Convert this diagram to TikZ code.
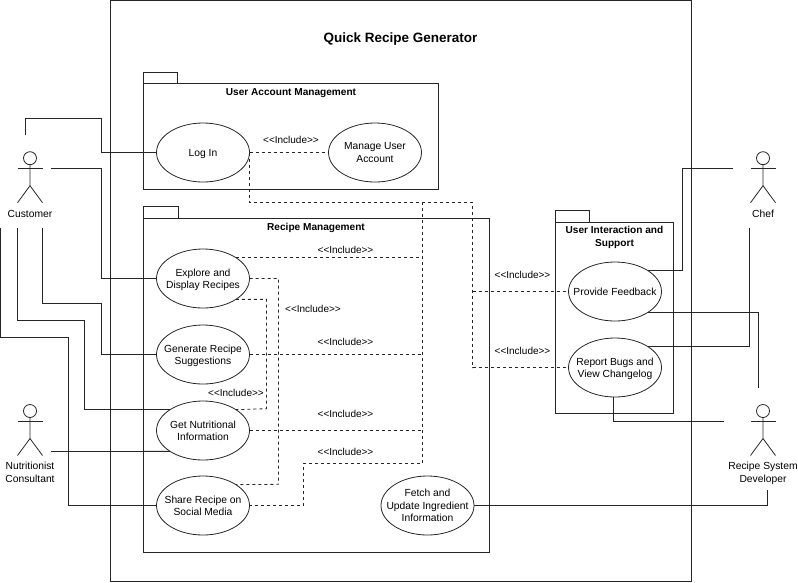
\documentclass[tikz,border=0pt]{standalone}
\usepackage{fontspec}
\setmainfont{Liberation Sans}
\usetikzlibrary{shapes.geometric,positioning}
\definecolor{linecol}{gray}{0.15}
\newcommand{\incl}{<{}<Include>{}>}
\tikzset{
  usecase/.style={draw=linecol,line width=0.8pt,shape=ellipse,minimum width=93pt,minimum height=59pt,inner xsep=-14pt,inner ysep=0pt,outer sep=0pt,align=center,text depth=0pt,font=\fontsize{10.3}{12.3}\selectfont},
  pkgbody/.style={draw=linecol,line width=0.8pt,rectangle,inner sep=0pt,outer sep=0pt,anchor=north west},
  pkgtab/.style={pkgbody,anchor=south west,minimum height=11.5pt},
  pkgtitle/.style={align=center,inner sep=0pt,text depth=0pt,font=\fontsize{10.1}{12.6}\selectfont\bfseries},
  inclabel/.style={inner sep=0pt,text depth=0pt,font=\fontsize{10}{12}\selectfont},
  actorlabel/.style={align=center,inner sep=0pt,text depth=0pt,font=\fontsize{10.3}{12.6}\selectfont},
  solidline/.style={draw=linecol,line width=0.8pt},
  dashline/.style={draw=linecol,line width=0.8pt,dash pattern=on 3pt off 3pt},
  stickman/.pic={
    \draw[solidline] (0,-10.5) circle (6.5);
    \draw[solidline] (-12.5,0)--(12.5,0);
    \draw[solidline] (0,-4)--(0,17)--(-12.5,34);
    \draw[solidline] (0,17)--(12.5,34);
  }
}
\begin{document}
\begin{tikzpicture}[x=1pt,y=-1pt]
  \useasboundingbox (0,0) rectangle (798,582);
  % system boundary
  \draw[solidline] (110,0.5) rectangle (691.5,581);
  \node[inner sep=0pt,text depth=0pt,font=\fontsize{13.5}{16}\selectfont\bfseries] (title) at (400.5,38) {Quick Recipe Generator};

  % packages
  \node[pkgbody,minimum width=295pt,minimum height=106pt] (accountpkg) at (143.5,83.5) {};
  \node[pkgtab,minimum width=34pt] (accounttab) at (accountpkg.north west) {};
  \node[pkgtitle] (accounttitle) at (291,91.7) {User Account Management};
  \node[pkgbody,minimum width=345.5pt,minimum height=334pt] (recipepkg) at (143.5,218.3) {};
  \node[pkgtab,minimum width=34.5pt] (recipetab) at (recipepkg.north west) {};
  \node[pkgtitle] (recipetitle) at (316,226.5) {Recipe Management};
  \node[pkgbody,minimum width=118pt,minimum height=190.7pt] (supportpkg) at (555.7,222.3) {};
  \node[pkgtab,minimum width=34pt] (supporttab) at (supportpkg.north west) {};
  \node[pkgtitle] (supporttitle) at (614.5,236.5) {User Interaction and\\Support};

  % use cases
  \node[usecase] (login) at (203,152.5) {Log In};
  \node[usecase] (manage) at (375,152.5) {Manage User\\Account};
  \node[usecase] (explore) at (203,278.5) {Explore and\\Display Recipes};
  \node[usecase] (generate) at (203,354.5) {Generate Recipe\\Suggestions};
  \node[usecase] (nutrition) at (203,430.5) {Get Nutritional\\Information};
  \node[usecase] (share) at (203,505.5) {Share Recipe on\\Social Media};
  \node[usecase] (fetch) at (427.5,505.5) {Fetch and\\Update Ingredient\\Information};
  \node[usecase] (feedback) at (615,291.5) {Provide Feedback};
  \node[usecase] (bugs) at (615,367.5) {Report Bugs and\\View Changelog};

  % actors
  \pic at (30,168.7) {stickman};
  \node[actorlabel] (customer) at (30,213.5) {Customer};
  \pic at (30,421.5) {stickman};
  \node[actorlabel] (consultant) at (30,472.5) {Nutritionist\\Consultant};
  \pic at (763,168.7) {stickman};
  \node[actorlabel] (chef) at (763,213.5) {Chef};
  \pic at (763,421.5) {stickman};
  \node[actorlabel] (developer) at (763,472.5) {Recipe System\\Developer};

  % free ends next to the actors
  \coordinate (custA) at (25.5,135);
  \coordinate (custB) at (51,168.7);
  \coordinate (custC) at (42.5,227.7);
  \coordinate (custD) at (17.5,227.7);
  \coordinate (custE) at (0.5,227.7);
  \coordinate (consA) at (51,451.5);
  \coordinate (chefA) at (732.7,168.7);
  \coordinate (chefB) at (749.7,227.7);
  \coordinate (devA) at (758,387.7);
  \coordinate (devB) at (724,421);
  \coordinate (devC) at (767.5,490);

  % associations
  \draw[solidline] (custA) |- (101.5,118.3) |- (login.west);
  \draw[solidline] (custB) -| (101.5,278.5) -- (explore.west);
  \draw[solidline] (custC) |- (101.5,303.3) |- (generate.west);
  \draw[solidline] (custD) |- (84.5,320) |- (nutrition.north west);
  \draw[solidline] (custE) |- (68,337.3) |- (share.west);
  \draw[solidline] (consA) -- (nutrition.south west);
  \draw[solidline] (feedback.north east) -| (682,168.7) -- (chefA);
  \draw[solidline] (bugs.north east) -| (chefB);
  \draw[solidline] (feedback.south east) -| (devA);
  \draw[solidline] ([xshift=-1.5pt]bugs.south) |- (devB);
  \draw[solidline] (fetch.east) -| (devC);

  % includes
  \draw[dashline] (login.east) -- (manage.west);
  \draw[dashline] (login.east) |- (472.5,202.3) |- (bugs.west);
  \draw[dashline] (472.5,291.5) -- (feedback.west);
  \draw[dashline] (422.5,202.3) |- (303.5,463.3) |- (share.east);
  \draw[dashline] (explore.north east) -- (explore.north east -| 422.5,202.3);
  \draw[dashline] (generate.east) -- (generate.east -| 422.5,202.3);
  \draw[dashline] (nutrition.east) -- (nutrition.east -| 422.5,202.3);
  \draw[dashline] (explore.east) -| (278.5,484.3) -- (share.north east);
  \draw[dashline] (explore.south east) -| (266.5,408.7) -- (nutrition.north east);

  \node[inclabel] (inclogin) at (291,139.7) {\incl};
  \node[inclabel] (incexplore) at (345.5,249.5) {\incl};
  \node[inclabel] (incshare) at (313,308.5) {\incl};
  \node[inclabel] (incgenerate) at (345.5,342) {\incl};
  \node[inclabel] (incnutrition) at (236,392.5) {\incl};
  \node[inclabel] (incinfo) at (345.5,413.5) {\incl};
  \node[inclabel] (incmedia) at (345.5,451.5) {\incl};
  \node[inclabel] (incfeedback) at (522.5,274.5) {\incl};
  \node[inclabel] (incbugs) at (522.5,350.5) {\incl};
\end{tikzpicture}
\end{document}
